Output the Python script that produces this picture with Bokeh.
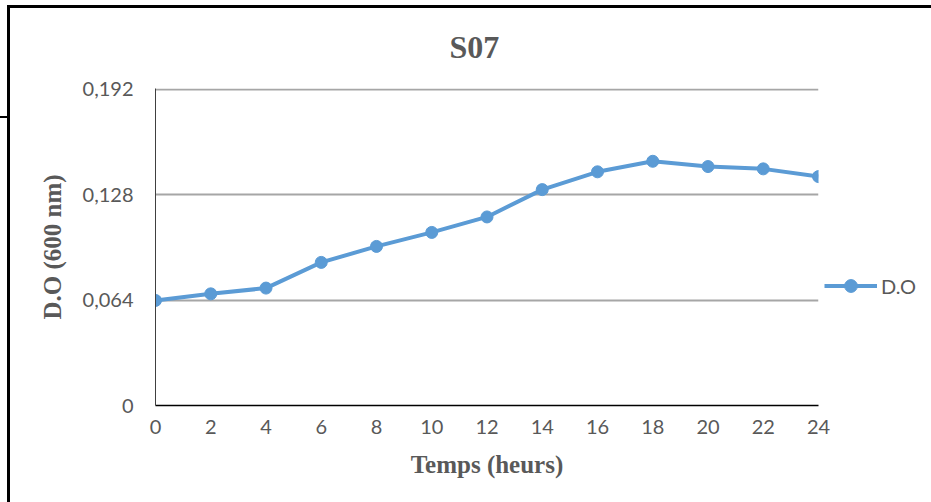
from bokeh.plotting import figure
from bokeh.models import Range1d, FixedTicker, Legend, LegendItem
from bokeh.embed import file_html
from bokeh.resources import INLINE

hours = [0, 2, 4, 6, 8, 10, 12, 14, 16, 18, 20, 22, 24]
do_values = [0.0638, 0.0678, 0.0713, 0.0869, 0.0966, 0.1051, 0.1145,
             0.1311, 0.1419, 0.1483, 0.1451, 0.1437, 0.1390]
y_ticks = [0, 0.064, 0.128, 0.192]
y_tick_labels = ["0", "0,064", "0,128", "0,192"]
x_ticks = [0, 2, 4, 6, 8, 10, 12, 14, 16, 18, 20, 22, 24]

GRAY_TXT = "#595959"
BLUE = "#5b9bd5"

frame_css = {
    "background": (
        "linear-gradient(#000,#000) 8px 5px / 923px 3px no-repeat, "
        "linear-gradient(#000,#000) 7px 5px / 3px 497px no-repeat, "
        "linear-gradient(#000,#000) 0px 116px / 8px 2px no-repeat, "
        "#ffffff"
    )
}

p = figure(width=931, height=502, frame_width=663, frame_height=317,
           output_backend="svg", toolbar_location=None,
           x_range=Range1d(0, 24), y_range=Range1d(0, 0.1925),
           min_border_left=155, min_border_right=113,
           min_border_top=88, min_border_bottom=97,
           title="S07", styles=frame_css)
p.outline_line_color = None
p.background_fill_color = "white"
p.border_fill_color = None

p.title.text_font = "Liberation Serif"
p.title.text_font_style = "bold"
p.title.text_font_size = "32px"
p.title.text_color = GRAY_TXT
p.title.align = "left"
p.title.offset = 294
p.title.standoff = 48

p.xgrid.visible = False
p.ygrid.grid_line_color = "#a6a6a6"
p.ygrid.grid_line_width = 2

for ax in (p.xaxis[0], p.yaxis[0]):
    ax.major_tick_out = 0
    ax.major_tick_in = 0
    ax.minor_tick_out = 0
    ax.minor_tick_in = 0
    ax.major_label_text_font = "Lato"
    ax.major_label_text_font_size = "20px"
    ax.major_label_text_color = GRAY_TXT
    ax.axis_label_text_font = "Liberation Serif"
    ax.axis_label_text_font_style = "bold"
    ax.axis_label_text_font_size = "25px"
    ax.axis_label_text_color = GRAY_TXT

p.xaxis[0].ticker = FixedTicker(ticks=x_ticks)
p.yaxis[0].ticker = FixedTicker(ticks=y_ticks)
p.yaxis[0].major_label_overrides = {t: l for t, l in zip(y_ticks, y_tick_labels)}
p.xaxis[0].axis_label = "Temps (heurs)"
p.yaxis[0].axis_label = "D.O (600 nm)"
p.xaxis[0].axis_line_color = "#000000"
p.xaxis[0].axis_line_width = 1.5
p.yaxis[0].axis_line_color = "#404040"
p.yaxis[0].axis_line_width = 1
p.xaxis[0].major_label_standoff = 14
p.yaxis[0].major_label_standoff = 22
p.xaxis[0].axis_label_standoff = 14
p.yaxis[0].axis_label_standoff = 14

ln = p.line(hours, do_values, line_color=BLUE, line_width=4)
sc = p.scatter(hours, do_values, size=12, fill_color=BLUE, line_color=BLUE)

legend = Legend(items=[LegendItem(label="D.O", renderers=[ln, sc])],
                location="center_left")
legend.title = " "
legend.title_text_font_size = "8px"
legend.title_standoff = 68
legend.padding = 0
legend.margin = 6
legend.border_line_alpha = 0
legend.background_fill_alpha = 0
legend.glyph_width = 53
legend.glyph_height = 32
legend.label_standoff = 4
legend.label_text_font = "Lato"
legend.label_text_font_size = "20px"
legend.label_text_color = GRAY_TXT
p.add_layout(legend, "right")

open("out.html", "w").write(file_html(p, INLINE))
